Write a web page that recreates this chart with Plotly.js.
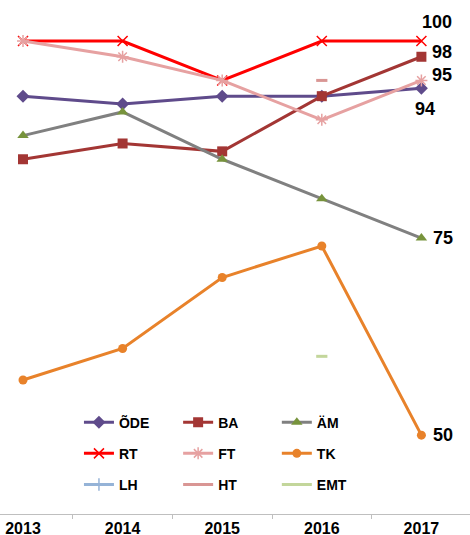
<!DOCTYPE html>
<html>
<head>
<meta charset="utf-8">
<script src="https://cdn.plot.ly/plotly-3.0.1.min.js"></script>
<style>html,body{margin:0;padding:0;background:#fff;}#chart{width:470px;height:535px;}</style>
</head>
<body>
<div id="chart"></div>
<script>
const years = ['2013', '2014', '2015', '2016', '2017'];

const seriesNames = ['ÕDE', 'BA', 'ÄM', 'RT', 'FT', 'TK', 'LH', 'HT', 'EMT'];

const ode = [93, 92, 93, 93, 94];
const ba  = [85, 87, 86, 93, 98];
const am  = [88, 91, 85, 80, 75];
const rt  = [100, 100, 95, 100, 100];
const ft  = [100, 98, 95, 90, 95];
const tk  = [57, 61, 70, 74, 50];
const lh  = [null, null, null, null, null];
const ht  = [null, null, null, 95, null];
const emt = [null, null, null, 60, null];

const values = [ode, ba, am, rt, ft, tk, lh, ht, emt];

// label placement for the last value of a series (style only)
const labelStyle = {
  'ÕDE': {xanchor: 'center', xshift: 4, yshift: -21},
  'BA':  {xanchor: 'left', xshift: 9, yshift: 5},
  'ÄM':  {xanchor: 'left', xshift: 10, yshift: 0},
  'RT':  {xanchor: 'left', xshift: -1, yshift: 19},
  'FT':  {xanchor: 'left', xshift: 9, yshift: 5},
  'TK':  {xanchor: 'left', xshift: 10, yshift: 0}
};

const styles = {
  'ÕDE': {line: '#5F4B8B', marker: {symbol: 'diamond', size: 10, color: '#5F4B8B'}, legend: 'legend'},
  'BA':  {line: '#A33634', marker: {symbol: 'square', size: 10, color: '#A33634'}, legend: 'legend2'},
  'ÄM':  {line: '#808080', marker: {symbol: 'triangle-up', size: 10, color: '#77933C'}, legend: 'legend3'},
  'RT':  {line: '#FF0000', marker: {symbol: 'x-thin-open', size: 10, color: '#FF0000', line: {color: '#FF0000', width: 1.5}}, legend: 'legend'},
  'FT':  {line: '#E6A1A1', marker: {symbol: 'asterisk-open', size: 10, color: '#E6A1A1', line: {color: '#E6A1A1', width: 1.5}}, legend: 'legend2'},
  'TK':  {line: '#E8822A', marker: {symbol: 'circle', size: 9, color: '#E8822A'}, legend: 'legend3'},
  'LH':  {line: '#95B3D7', marker: {symbol: 'line-ns-open', size: 9, color: '#95B3D7', line: {color: '#95B3D7', width: 1.5}}, legend: 'legend'},
  'HT':  {line: '#D99694', marker: {symbol: 'line-ew-open', size: 8, color: '#D99694', line: {color: '#D99694', width: 3}}, legend: 'legend2'},
  'EMT': {line: '#C3D69B', marker: {symbol: 'line-ew-open', size: 8, color: '#C3D69B', line: {color: '#C3D69B', width: 3}}, legend: 'legend3'}
};

const FONT = 'Liberation Sans, Arial, sans-serif';

const traces = seriesNames.map((name, k) => {
  const s = styles[name];
  return {
    type: 'scatter',
    mode: 'lines+markers',
    name: name,
    x: years,
    y: values[k],
    line: {color: s.line, width: 3},
    marker: s.marker,
    legend: s.legend,
    legendgroup: name,
    cliponaxis: false,
    hoverinfo: 'skip'
  };
});

const annotations = [];
seriesNames.forEach((name, k) => {
  const st = labelStyle[name];
  if (!st) return;
  const vals = values[k];
  const i = vals.length - 1;
  annotations.push({
    x: i, y: vals[i], xref: 'x', yref: 'y',
    text: String(vals[i]),
    showarrow: false,
    xanchor: st.xanchor, yanchor: 'middle',
    xshift: st.xshift, yshift: st.yshift,
    font: {family: FONT, size: 18, weight: 'bold', color: '#000'}
  });
});

const legendBase = {
  orientation: 'v',
  traceorder: 'grouped',
  tracegroupgap: 10,
  yanchor: 'top',
  y: 0.209,
  xanchor: 'left',
  bgcolor: 'rgba(0,0,0,0)',
  font: {family: FONT, size: 14, weight: 'bold', color: '#000'},
  itemwidth: 30
};

const layout = {
  width: 470,
  height: 535,
  margin: {l: 0, r: 0, t: 0, b: 21},
  paper_bgcolor: '#fff',
  plot_bgcolor: '#fff',
  showlegend: true,
  legend: Object.assign({}, legendBase, {x: 0.168}),
  legend2: Object.assign({}, legendBase, {x: 0.379}),
  legend3: Object.assign({}, legendBase, {x: 0.589}),
  annotations: annotations,
  xaxis: {
    type: 'category',
    categoryorder: 'array',
    categoryarray: years,
    range: [-0.231, 4.488],
    showgrid: false,
    zeroline: false,
    showline: true,
    linecolor: '#BFBFBF',
    linewidth: 1,
    ticks: 'outside',
    tickson: 'boundaries',
    ticklen: 4,
    tickcolor: '#BFBFBF',
    tickfont: {family: FONT, size: 16, weight: 'bold', color: '#000'},
    automargin: false,
    fixedrange: true
  },
  yaxis: {
    range: [40, 105.2],
    visible: false,
    showgrid: false,
    zeroline: false,
    automargin: false,
    fixedrange: true
  }
};

Plotly.newPlot('chart', traces, layout, {displayModeBar: false, staticPlot: true});
</script>
</body>
</html>
